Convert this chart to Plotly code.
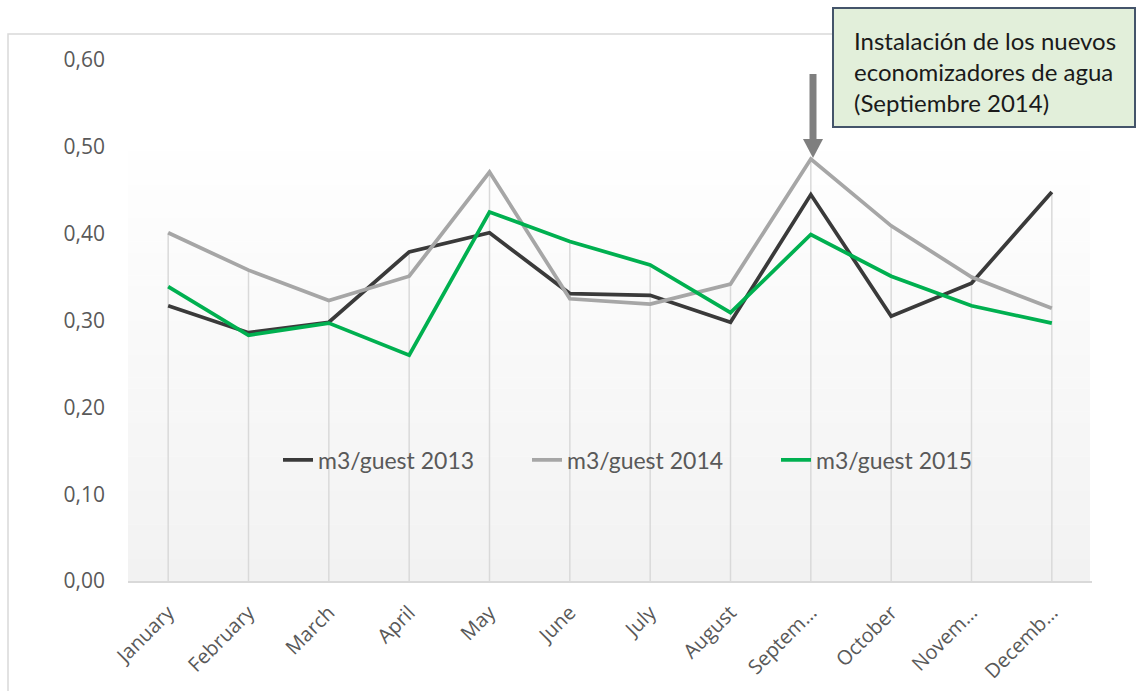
import plotly.graph_objects as go

W, H = 1136, 691

months = ["January", "February", "March", "April", "May", "June", "July",
          "August", "Septem…", "October", "Novem…", "Decemb…"]
s2013 = [0.317, 0.286, 0.298, 0.379, 0.401, 0.331, 0.329, 0.298, 0.445, 0.305, 0.343, 0.448]
s2014 = [0.401, 0.358, 0.323, 0.351, 0.471, 0.325, 0.319, 0.342, 0.486, 0.409, 0.350, 0.314]
s2015 = [0.339, 0.283, 0.297, 0.260, 0.425, 0.391, 0.364, 0.309, 0.399, 0.351, 0.317, 0.297]
names = ["m3/guest 2013", "m3/guest 2014", "m3/guest 2015"]
colors = ["#3a3a3a", "#a6a6a6", "#00b050"]
yticks = [0.0, 0.1, 0.2, 0.3, 0.4, 0.5, 0.6]
note = "Instalación de los nuevos<br>economizadores de agua<br>(Septiembre 2014)"


def px(x):
    return x / W


def py(y):
    return 1 - y / H


fig = go.Figure()

# drop lines from highest value of each month to the axis
dx, dy = [], []
for m, a, b, c in zip(months, s2013, s2014, s2015):
    dx += [m, m, None]
    dy += [0, max(a, b, c), None]
fig.add_trace(go.Scatter(x=dx, y=dy, mode="lines", line=dict(color="#d9d9d9", width=1.5),
                         showlegend=False, hoverinfo="skip"))

for name, vals, col in zip(names, [s2013, s2014, s2015], colors):
    fig.add_trace(go.Scatter(x=months, y=vals, name=name, mode="lines",
                             line=dict(color=col, width=3.75)))

shapes = []
# outer chart border
shapes.append(dict(type="rect", xref="paper", yref="paper", x0=px(8), x1=px(1300),
                   y0=py(34), y1=py(900), line=dict(color="#d9d9d9", width=1.5),
                   fillcolor="rgba(0,0,0,0)", layer="below"))
# gradient plot area background
n = 40
top, bot = 128, 581
for i in range(n):
    t = i / (n - 1)
    v = round(255 - (255 - 242) * t)
    y0 = top + (bot - top) * i / n
    y1 = top + (bot - top) * (i + 1) / n
    shapes.append(dict(type="rect", xref="paper", yref="paper", x0=px(128), x1=px(1090),
                       y0=py(y0), y1=py(y1) - 0.0005, line=dict(width=0),
                       fillcolor=f"rgb({v},{v},{v})", layer="below"))
# annotation box
shapes.append(dict(type="rect", xref="paper", yref="paper", x0=px(833), x1=px(1135),
                   y0=py(8), y1=py(127), line=dict(color="#44546a", width=2),
                   fillcolor="#e2efda", layer="above"))
# arrow shaft + head
shapes.append(dict(type="line", xref="paper", yref="paper", x0=px(813), x1=px(813),
                   y0=py(74), y1=py(141), line=dict(color="#7f7f7f", width=7), layer="above"))
shapes.append(dict(type="path", xref="paper", yref="paper",
                   path=f"M {px(803)} {py(139)} L {px(823)} {py(139)} L {px(813)} {py(158)} Z",
                   line=dict(color="#7f7f7f", width=0), fillcolor="#7f7f7f", layer="above"))

fig.update_layout(
    width=W, height=H,
    autosize=False,
    margin=dict(l=0, r=0, t=0, b=0, pad=0, autoexpand=False),
    paper_bgcolor="white",
    plot_bgcolor="rgba(0,0,0,0)",
    separators=",.",
    shapes=shapes,
    showlegend=True,
    legend=dict(orientation="h", x=px(278), xanchor="left", y=py(460), yanchor="middle",
                bgcolor="rgba(0,0,0,0)", font=dict(family="Lato", size=23, color="#595959"),
                entrywidth=204, entrywidthmode="pixels", itemwidth=30),
    annotations=[dict(xref="paper", yref="paper", x=px(852), y=py(72), xanchor="left",
                      yanchor="middle", align="left", showarrow=False, text=note,
                      font=dict(family="Lato", size=24, color="#1a1a1a"))],
    xaxis=dict(domain=[px(128), px(1092)], type="category", categoryorder="array",
               categoryarray=months, range=[-0.5, 11.5], showgrid=False, showline=True,
               linecolor="#d9d9d9", linewidth=2, ticks="", tickangle=-45,
               tickfont=dict(family="Open Sans", size=20, color="#595959"),
               ticklabelstandoff=10, zeroline=False, automargin=False),
    yaxis=dict(domain=[py(581), py(60)], range=[0, 0.6], tickvals=yticks, tickformat=".2f",
               showgrid=False, showline=False, zeroline=False, ticks="",
               tickfont=dict(family="Open Sans", size=21, color="#595959"),
               ticklabelstandoff=22, automargin=False),
)

fig.write_html("out.html", config={"displayModeBar": False},
               post_script="document.body.style.margin='0px';")
